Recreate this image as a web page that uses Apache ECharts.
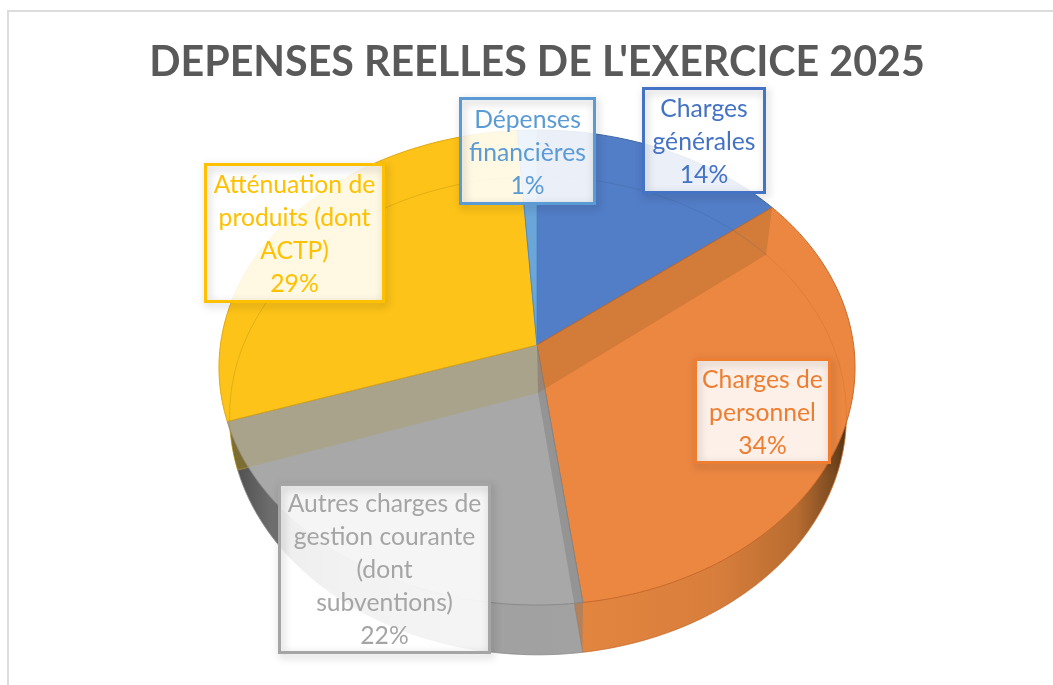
<!DOCTYPE html>
<html>
<head>
<meta charset="utf-8">
<style>
  html, body { margin: 0; background: #fff; }
  #pieChart { width: 1053px; height: 685px; }
</style>
<script src="https://cdn.jsdelivr.net/npm/echarts@6/dist/echarts.min.js"></script>
</head>
<body>
<div id="pieChart"></div>
<script>
const chartTitle = "DEPENSES REELLES DE L'EXERCICE 2025";
const categories = [
  "Charges\ngénérales",
  "Charges de\npersonnel",
  "Autres charges de\ngestion courante\n(dont\nsubventions)",
  "Atténuation de\nproduits (dont\nACTP)",
  "Dépenses\nfinancières"
];
const shareValues = [14.4, 33.5, 22, 29, 1.1];

// slice styling, same order as categories
const labelColors = ["#4472c4", "#ed7d31", "#a5a5a5", "#ffc000", "#5b9bd5"];
const topColors = ["#527dc7", "#ec8742", "#a8a8a8", "#fdc318", "#6ba5da"];
const edgeColors = ["#41689f", "#c86a2a", "#8a8a8a", "#b08a10", "#4f8cc4"];
// label boxes: left, top, right, bottom
const labelBoxes = [
  [642, 87, 766, 194],
  [694, 358, 831, 464],
  [278, 483, 491, 654],
  [204, 163, 385, 303],
  [459, 97, 596, 205]
];

// the 3D look: two perspective discs, the lower one seen further away
const upperDisc = { cx: 537, cy: 345, a: 316.6, b: 235.4 };
const lowerDisc = { cx: 538, cy: 393, a: 307, b: 237 };
const depthK = 0.0947;

const total = shareValues.reduce((s, v) => s + v, 0);
function startShare(i) {
  return shareValues.slice(0, i).reduce((s, v) => s + v, 0);
}

function project(disc, share) {
  const t = (share / total) * Math.PI * 2;
  const d = 1 + depthK * Math.cos(t);
  return [disc.cx + (disc.a * Math.sin(t)) / d, disc.cy - (disc.b * Math.cos(t)) / d];
}

function rimPoints(disc, from, to) {
  const pts = [];
  const n = Math.max(4, Math.ceil((to - from) * 3));
  for (let i = 0; i <= n; i++) {
    pts.push(project(disc, from + ((to - from) * i) / n));
  }
  return pts;
}

function sectorPoints(disc, from, to) {
  return [[disc.cx, disc.cy]].concat(rimPoints(disc, from, to));
}

const orangeWall = new echarts.graphic.LinearGradient(585, 0, 850, 0, [
  { offset: 0, color: "#e2853f" },
  { offset: 0.5, color: "#d87e3c" },
  { offset: 0.8, color: "#b86c30" },
  { offset: 0.94, color: "#7a4a20" },
  { offset: 1, color: "#3f2a12" }
], true);
const grayWall = new echarts.graphic.LinearGradient(235, 0, 585, 0, [
  { offset: 0, color: "#4f4f4f" },
  { offset: 0.12, color: "#727272" },
  { offset: 0.3, color: "#909090" },
  { offset: 0.6, color: "#a0a0a0" },
  { offset: 1, color: "#a2a2a2" }
], true);
const wallFills = ["#3f5f95", orangeWall, grayWall, "#5f5320", "#3f6f9f"];

function renderWall(params, api) {
  const i = params.dataIndex;
  const from = startShare(i);
  return {
    type: "polygon",
    shape: { points: sectorPoints(lowerDisc, from, from + api.value(1)) },
    style: { fill: wallFills[i], stroke: edgeColors[i], lineWidth: 0.6 }
  };
}

function renderTop(params, api) {
  const i = params.dataIndex;
  const from = startShare(i);
  return {
    type: "polygon",
    shape: { points: sectorPoints(upperDisc, from, from + api.value(1)) },
    style: { fill: topColors[i], stroke: i === 3 ? "#e0a810" : edgeColors[i], lineWidth: 1 }
  };
}

// cut faces seen through the top, and the lower rim showing faintly
const bandFills = [null, "rgba(176,105,45,0.4)", "rgba(125,125,125,0.45)", "rgba(176,155,90,0.36)", null];
function renderBand(params, api) {
  const i = params.dataIndex;
  const from = startShare(i);
  const children = [{
    type: "polyline",
    shape: { points: rimPoints(lowerDisc, from, from + api.value(1)) },
    style: { fill: null, stroke: edgeColors[i], lineWidth: 1, opacity: 0.35 }
  }];
  if (bandFills[i]) {
    // band sits on the cut where this slice begins
    children.push({
      type: "polygon",
      shape: { points: [
        [upperDisc.cx, upperDisc.cy],
        project(upperDisc, from),
        project(lowerDisc, from),
        [lowerDisc.cx, lowerDisc.cy]
      ] },
      style: { fill: bandFills[i] }
    });
  }
  return { type: "group", children: children };
}

function renderLabel(params, api) {
  const i = params.dataIndex;
  const box = labelBoxes[i];
  const rect = { x: box[0] + 1.5, y: box[1] + 1.5, width: box[2] - box[0] - 3, height: box[3] - box[1] - 3 };
  return {
    type: "group",
    children: [
      { type: "rect", shape: rect, style: { fill: "rgba(255,255,255,0.88)" } },
      {
        type: "rect",
        shape: rect,
        style: {
          fill: null,
          stroke: labelColors[i],
          lineWidth: 3,
          shadowBlur: 8,
          shadowOffsetX: 2,
          shadowOffsetY: 3,
          shadowColor: "rgba(0,0,0,0.25)"
        }
      },
      {
        type: "text",
        style: {
          x: (box[0] + box[2]) / 2,
          y: (box[1] + box[3]) / 2 + 2,
          text: categories[i] + "\n" + Math.round(api.value(1)) + "%",
          fill: labelColors[i],
          font: '24.7px Lato, "Noto Sans", sans-serif',
          lineHeight: 33,
          align: "center",
          verticalAlign: "middle"
        }
      }
    ]
  };
}

const seriesData = shareValues.map((v, i) => [i, v]);
function layer(renderItem, z) {
  return { type: "custom", coordinateSystem: "none", renderItem: renderItem, data: seriesData, z: z, silent: true };
}

const chart = echarts.init(document.getElementById("pieChart"));
chart.setOption({
  animation: false,
  backgroundColor: "#fff",
  title: {
    text: chartTitle,
    left: 532,
    top: 37,
    textAlign: "center",
    textStyle: { color: "#595959", fontFamily: "Lato", fontWeight: "bold", fontSize: 41.2 }
  },
  graphic: [
    { type: "rect", z: 0, shape: { x: 8, y: 11, width: 2000, height: 2000 }, style: { fill: null, stroke: "#dcdcdc", lineWidth: 2 } }
  ],
  series: [
    layer(renderWall, 1),
    layer(renderTop, 2),
    layer(renderBand, 3),
    layer(renderLabel, 4)
  ]
});
</script>
</body>
</html>
